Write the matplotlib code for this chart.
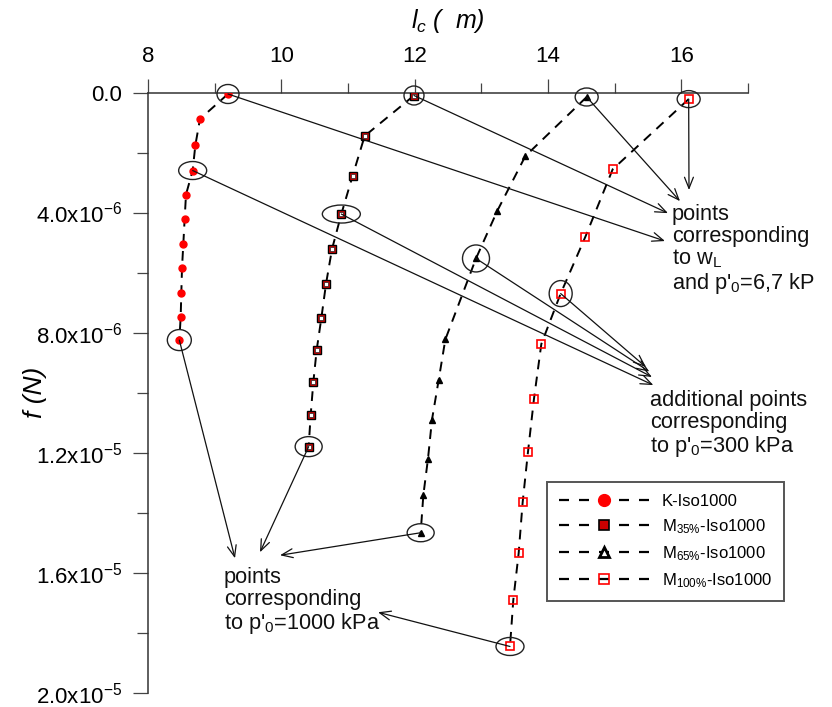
import matplotlib
matplotlib.use('Agg')
import matplotlib.pyplot as plt
from matplotlib.patches import Ellipse
from matplotlib.lines import Line2D
from matplotlib.ticker import FixedLocator, FixedFormatter

plt.rcParams['font.family'] = ['Liberation Sans', 'DejaVu Sans']
plt.rcParams['mathtext.fontset'] = 'custom'
plt.rcParams['mathtext.rm'] = 'Liberation Sans'
plt.rcParams['mathtext.it'] = 'Liberation Sans:italic'
plt.rcParams['mathtext.bf'] = 'Liberation Sans:bold'

# contact length l_c (um) versus force f (x1e-6 N)
k_lc = [9.20, 8.78, 8.71, 8.67, 8.57, 8.55, 8.53, 8.51, 8.50, 8.49, 8.47]
k_f = [0.05, 0.88, 1.76, 2.60, 3.40, 4.20, 5.04, 5.85, 6.67, 7.49, 8.25]

m35_lc = [11.99, 11.25, 11.07, 10.90, 10.76, 10.67, 10.60, 10.53, 10.48, 10.44, 10.41]
m35_f = [0.10, 1.45, 2.77, 4.05, 5.22, 6.38, 7.52, 8.58, 9.65, 10.75, 11.80]

m65_lc = [14.58, 13.66, 13.24, 12.92, 12.46, 12.36, 12.26, 12.20, 12.13, 12.09]
m65_f = [0.15, 2.12, 3.94, 5.53, 8.23, 9.58, 10.90, 12.20, 13.42, 14.67]

m100_lc = [16.11, 14.97, 14.56, 14.19, 13.90, 13.79, 13.70, 13.62, 13.56, 13.48, 13.43]
m100_f = [0.22, 2.56, 4.81, 6.70, 8.38, 10.20, 11.97, 13.65, 15.35, 16.90, 18.46]

x_ticks = [8, 10, 12, 14, 16]
x_minor = [9, 11, 13, 15, 17]
y_ticks = [0, 4e-6, 8e-6, 1.2e-5, 1.6e-5, 2.0e-5]
y_minor = [2e-6, 6e-6, 1.0e-5, 1.4e-5, 1.8e-5]
y_tick_labels = ['0.0', r'4.0x10$^{-6}$', r'8.0x10$^{-6}$', r'1.2x10$^{-5}$',
                 r'1.6x10$^{-5}$', r'2.0x10$^{-5}$']

SC = 1e-6
W, H = 832, 707
fig = plt.figure(figsize=(W / 100, H / 100), dpi=100)
fig.patch.set_facecolor('white')
ax = fig.add_axes([148 / W, 1 - 692.7 / H, 600 / W, 600.2 / H])
ax.set_xlim(8, 17)
ax.set_ylim(2.0e-5, 0)

DASH = (0, (5, 3.8))
LEG_DASH = (0, (4.5, 4.5))
LW = 1.4

series = {
    'K': (k_lc, k_f),
    'M35': (m35_lc, m35_f),
    'M65': (m65_lc, m65_f),
    'M100': (m100_lc, m100_f),
}

for name, (xs, fs) in series.items():
    ys = [v * SC for v in fs]
    ax.plot(xs, ys, color='black', lw=LW, ls=DASH, zorder=2)

ax.plot(k_lc, [v * SC for v in k_f], ls='none', marker='o', ms=5,
        mfc='#ff0000', mec='#ff0000', zorder=3)
ax.plot(m35_lc, [v * SC for v in m35_f], ls='none', marker='s', ms=6,
        mfc='#dd0000', mec='black', mew=1.0, zorder=3)
ax.plot(m35_lc, [v * SC for v in m35_f], ls='none', marker='s', ms=2.2,
        mfc='white', mec='#222222', mew=0.5, zorder=3)
ax.plot(m65_lc, [v * SC for v in m65_f], ls='none', marker='^', ms=5,
        mfc='black', mec='black', zorder=3)
ax.plot(m100_lc, [v * SC for v in m100_f], ls='none', marker='s', ms=5.5,
        mfc='none', mec='#ff0000', mew=1.2, zorder=3)

# highlighted points: (series, index, ellipse width px, height px)
highlights = [
    ('K', 0, 22, 19), ('K', 3, 28, 18), ('K', 10, 24, 21),
    ('M35', 0, 20, 19), ('M35', 3, 38, 18), ('M35', 10, 27, 20),
    ('M65', 0, 23, 18), ('M65', 3, 27, 27), ('M65', 9, 27, 18),
    ('M100', 0, 23, 17), ('M100', 3, 23, 26), ('M100', 10, 28, 18),
]
PX_X = 600 / 9.0
PX_Y = 600.2 / 2.0e-5
for name, i, w, h in highlights:
    xs, fs = series[name]
    e = Ellipse((xs[i], fs[i] * SC), w / PX_X, h / PX_Y, fill=False,
                lw=1.0, ec='#222222', zorder=4, clip_on=False)
    ax.add_patch(e)

# arrow targets next to the explanatory notes (l_c, f)
arrow_targets = {
    ('K', 0): (15.755, 4.95e-6), ('M35', 0): (15.80, 4.02e-6),
    ('M65', 0): (15.98, 3.62e-6), ('M100', 0): (16.115, 3.25e-6),
    ('K', 3): (15.58, 9.75e-6), ('M35', 3): (15.56, 9.48e-6),
    ('M65', 3): (15.52, 9.30e-6), ('M100', 3): (15.47, 9.15e-6),
    ('K', 10): (9.305, 15.52e-6), ('M35', 10): (9.68, 15.32e-6),
    ('M65', 9): (9.98, 15.42e-6), ('M100', 10): (11.45, 17.32e-6),
}
for (name, i), (tx, ty) in arrow_targets.items():
    xs, fs = series[name]
    ax.annotate('', xy=(tx, ty), xytext=(xs[i], fs[i] * SC),
                arrowprops=dict(arrowstyle='->,head_length=0.5,head_width=0.2',
                                lw=0.9, color='#111111', shrinkA=0, shrinkB=0,
                                mutation_scale=16),
                zorder=5, annotation_clip=False)

note_kw = dict(fontsize=15.7, ha='left', va='top', linespacing=1.05, color='#111111')
ax.text(15.86, 3.72e-6, "points\ncorresponding\nto w$_\\mathrm{L}$\nand p'$_0$=6,7 kP", **note_kw)
ax.text(15.53, 9.92e-6, "additional points\ncorresponding\nto p'$_0$=300 kPa", **note_kw)
ax.text(9.14, 15.82e-6, "points\ncorresponding\nto p'$_0$=1000 kPa", **note_kw)

# axes styling
for s in ('right', 'bottom'):
    ax.spines[s].set_visible(False)
for s in ('top', 'left'):
    ax.spines[s].set_color('#333333')
    ax.spines[s].set_linewidth(1.1)

ax.xaxis.tick_top()
ax.xaxis.set_major_locator(FixedLocator(x_ticks))
ax.xaxis.set_minor_locator(FixedLocator(x_minor))
ax.yaxis.set_major_locator(FixedLocator(y_ticks))
ax.yaxis.set_major_formatter(FixedFormatter(y_tick_labels))
ax.yaxis.set_minor_locator(FixedLocator(y_minor))
ax.tick_params(axis='x', which='major', direction='out', length=10, width=0.9,
               color='#444444', labelsize=16, pad=8)
ax.tick_params(axis='x', which='minor', direction='out', length=7, width=0.9,
               color='#444444')
ax.tick_params(axis='y', which='major', direction='out', length=10.8, width=0.9,
               color='#444444', labelsize=16, pad=8)
ax.tick_params(axis='y', which='minor', direction='out', length=8, width=0.9,
               color='#444444')

ax.text(0.5, (692.7 - 28) / 600.2, r'$l_c$ (  m)', transform=ax.transAxes,
        ha='center', va='baseline', fontsize=18, style='italic')
ax.text((35 - 148) / 600, 0.5, 'f (N)', transform=ax.transAxes, rotation=90,
        ha='center', va='center', fontsize=19, style='italic')

handles = [
    Line2D([], [], color='black', lw=1.6, ls=LEG_DASH, marker='o', ms=8.5,
           mfc='#ff0000', mec='#ff0000'),
    Line2D([], [], color='black', lw=1.6, ls=LEG_DASH, marker='s', ms=6.5,
           mfc='#cc0000', mec='black', mew=1.2),
    Line2D([], [], color='black', lw=1.6, ls=LEG_DASH, marker='^', ms=7.5,
           mfc='white', mec='black', mew=2.0),
    Line2D([], [], color='black', lw=1.6, ls=LEG_DASH, marker='s', ms=6.5,
           mfc='none', mec='#ff0000', mew=1.2),
]
labels = ['K-Iso1000', r'M$_{35\%}$-Iso1000', r'M$_{65\%}$-Iso1000',
          r'M$_{100\%}$-Iso1000']
leg = fig.legend(handles, labels, loc='upper left',
                 bbox_to_anchor=(547 / W, 1 - 482 / H), borderaxespad=0,
                 fontsize=12, handlelength=5.4, handletextpad=0.8,
                 labelspacing=0.5, borderpad=0.7, fancybox=False,
                 framealpha=1, edgecolor='#555555')
leg.get_frame().set_linewidth(1.4)

fig.savefig('out.png', dpi=100, facecolor='white')
